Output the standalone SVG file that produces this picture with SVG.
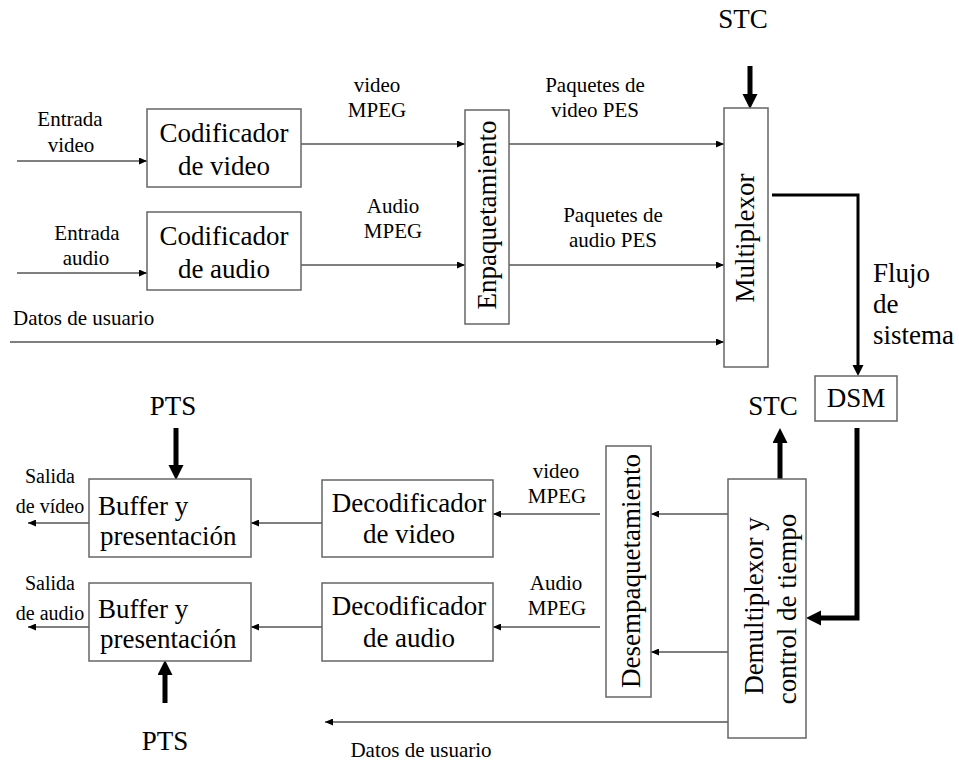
<svg xmlns="http://www.w3.org/2000/svg" width="959" height="761" viewBox="0 0 959 761">
<defs>
<style>
.box{fill:#fff;stroke:#666;stroke-width:1.5}
.ln{fill:none;stroke:#555;stroke-width:1.3}
.tk{fill:none;stroke:#000}
.big{font-size:27px}
.sm{font-size:21px}
.xs{font-size:20px}
.mid{text-anchor:middle}
</style>
<marker id="a" markerUnits="userSpaceOnUse" markerWidth="9" markerHeight="7" refX="8" refY="3.5" orient="auto"><path d="M0,0 L8,3.5 L0,7 z" fill="#000"/></marker>
<marker id="m" markerUnits="userSpaceOnUse" markerWidth="12" markerHeight="12" refX="0" refY="5.5" orient="auto"><path d="M0,0 L11,5.5 L0,11 z" fill="#000"/></marker>
<marker id="b" markerUnits="userSpaceOnUse" markerWidth="16" markerHeight="16" refX="0" refY="7.5" orient="auto"><path d="M0,0 L15,7.5 L0,15 z" fill="#000"/></marker>
</defs>
<rect width="959" height="761" fill="#fff"/>

<g id="connectors">
<line class="ln" x1="17" y1="161" x2="147" y2="161" marker-end="url(#a)"/>
<line class="ln" x1="17" y1="273" x2="147" y2="273" marker-end="url(#a)"/>
<line class="ln" x1="301" y1="144" x2="465" y2="144" marker-end="url(#a)"/>
<line class="ln" x1="301" y1="265" x2="465" y2="265" marker-end="url(#a)"/>
<line class="ln" x1="509" y1="144" x2="724" y2="144" marker-end="url(#a)"/>
<line class="ln" x1="509" y1="265" x2="724" y2="265" marker-end="url(#a)"/>
<line class="ln" x1="10" y1="342" x2="724" y2="342" marker-end="url(#a)"/>
<line class="tk" stroke-width="5" x1="750" y1="66" x2="750" y2="94" marker-end="url(#b)"/>
<path class="tk" stroke-width="3" d="M772,195 H858 V365" marker-end="url(#m)"/>
<path class="tk" stroke-width="5" d="M857,428 V618 H821" marker-end="url(#b)"/>
<line class="tk" stroke-width="5" x1="780" y1="479" x2="780" y2="443" marker-end="url(#b)"/>
<line class="ln" x1="728" y1="514" x2="651" y2="514" marker-end="url(#a)"/>
<line class="ln" x1="728" y1="652" x2="651" y2="652" marker-end="url(#a)"/>
<line class="ln" x1="600" y1="514" x2="493" y2="514" marker-end="url(#a)"/>
<line class="ln" x1="600" y1="627" x2="493" y2="627" marker-end="url(#a)"/>
<line class="ln" x1="322" y1="523" x2="251" y2="523" marker-end="url(#a)"/>
<line class="ln" x1="322" y1="627" x2="251" y2="627" marker-end="url(#a)"/>
<line class="ln" x1="89" y1="523" x2="28" y2="523" marker-end="url(#a)"/>
<line class="ln" x1="89" y1="627" x2="28" y2="627" marker-end="url(#a)"/>
<line class="tk" stroke-width="5" x1="176" y1="428" x2="176" y2="465" marker-end="url(#b)"/>
<line class="tk" stroke-width="5" x1="165" y1="703" x2="165" y2="675" marker-end="url(#b)"/>
<line class="ln" x1="728" y1="722" x2="325" y2="722" marker-end="url(#a)"/>
</g>

<g font-family="'Liberation Serif', 'DejaVu Serif', 'Times New Roman', serif" fill="#000">
<g id="cod-video"><rect class="box" x="147" y="109" width="154" height="78"/><text class="big mid" x="224" y="142">Codificador</text><text class="big mid" x="224" y="175">de video</text></g>
<g id="cod-audio"><rect class="box" x="147" y="212" width="154" height="78"/><text class="big mid" x="224" y="245">Codificador</text><text class="big mid" x="224" y="278">de audio</text></g>
<g id="enpaq"><rect class="box" x="465" y="110" width="44" height="214"/><text class="big mid" transform="translate(496,215) rotate(-90)">Enpaquetamiento</text></g>
<g id="mux"><rect class="box" x="724" y="108" width="44" height="259"/><text class="big mid" transform="translate(754,238) rotate(-90)">Multiplexor</text></g>
<g id="dsm"><rect class="box" x="815" y="376" width="82" height="45"/><text class="big mid" x="856" y="407">DSM</text></g>
<g id="demux"><rect class="box" x="728" y="479" width="78" height="259"/><text class="big mid" transform="translate(763,606) rotate(-90)">Demultiplexor y</text><text class="big mid" transform="translate(796,609) rotate(-90)">control de tiempo</text></g>
<g id="desempaq"><rect class="box" x="606" y="446" width="45" height="251"/><text class="big mid" transform="translate(640,571) rotate(-90)">Desempaquetamiento</text></g>
<g id="dec-video"><rect class="box" x="322" y="480" width="171" height="77"/><text class="big mid" x="409" y="512">Decodificador</text><text class="big mid" x="409" y="543">de video</text></g>
<g id="dec-audio"><rect class="box" x="322" y="583" width="171" height="78"/><text class="big mid" x="409" y="615">Decodificador</text><text class="big mid" x="409" y="647">de audio</text></g>
<g id="buf-video"><rect class="box" x="89" y="479" width="162" height="78"/><text class="big" x="98" y="515">Buffer y</text><text class="big" x="100" y="545">presentación</text></g>
<g id="buf-audio"><rect class="box" x="89" y="583" width="162" height="78"/><text class="big" x="98" y="618">Buffer y</text><text class="big" x="100" y="648">presentación</text></g>

<g id="labels">
<text class="sm mid" x="70" y="126">Entrada</text><text class="sm mid" x="71" y="152">video</text>
<text class="sm mid" x="87" y="240">Entrada</text><text class="sm mid" x="86" y="265">audio</text>
<text class="sm mid" x="377" y="92">video</text><text class="sm mid" x="377" y="117">MPEG</text>
<text class="sm mid" x="393" y="213">Audio</text><text class="sm mid" x="393" y="238">MPEG</text>
<text class="sm mid" x="595" y="92">Paquetes de</text><text class="sm mid" x="595" y="117">video PES</text>
<text class="sm mid" x="613" y="222">Paquetes de</text><text class="sm mid" x="613" y="247">audio PES</text>
<text class="sm" x="13" y="325">Datos de usuario</text>
<text class="big mid" x="743" y="28">STC</text>
<text class="big" x="873" y="282">Flujo</text><text class="big" x="873" y="313">de</text><text class="big" x="873" y="344">sistema</text>
<text class="big mid" x="773" y="415">STC</text>
<text class="big mid" x="173" y="415">PTS</text>
<text class="big mid" x="165" y="750">PTS</text>
<text class="xs mid" x="50" y="483">Salida</text><text class="xs mid" x="50" y="513">de vídeo</text>
<text class="xs mid" x="50" y="590">Salida</text><text class="xs mid" x="50" y="620">de audio</text>
<text class="sm mid" x="556" y="478">video</text><text class="sm mid" x="557" y="503">MPEG</text>
<text class="sm mid" x="556" y="590">Audio</text><text class="sm mid" x="557" y="615">MPEG</text>
<text class="sm mid" x="421" y="757">Datos de usuario</text>
</g>
</g>
</svg>
